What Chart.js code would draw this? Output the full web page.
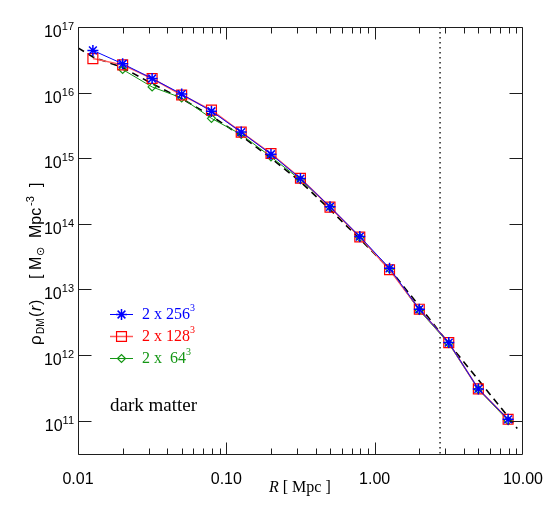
<!DOCTYPE html>
<html>
<head>
<meta charset="utf-8">
<script src="https://cdn.jsdelivr.net/npm/chart.js@4.4.1/dist/chart.umd.min.js"></script>
<style>
  html, body { margin: 0; padding: 0; background: #ffffff; }
  #wrap { width: 550px; height: 511px; position: relative; }
</style>
</head>
<body>
<div id="wrap"><canvas id="c" width="550" height="511"></canvas></div>
<script>
// ---- data ----
const radius   = [0.0126, 0.02, 0.0316, 0.05, 0.0794, 0.126, 0.2, 0.316, 0.5, 0.794, 1.26, 2.0, 3.16, 5.0, 7.94];
const rho256   = [4.4e16, 2.75e16, 1.64e16, 9.5e15, 5.2e15, 2.5e15, 1.15e15, 4.9e14, 1.82e14, 6.4e13, 2.1e13, 5.0e12, 1.55e12, 3.05e11, 1.05e11];
const rho128   = [3.3e16, 2.65e16, 1.64e16, 9.2e15, 5.4e15, 2.5e15, 1.18e15, 4.95e14, 1.8e14, 6.3e13, 2.0e13, 5.0e12, 1.55e12, 3.05e11, 1.05e11];
const rho64    = [null, 2.25e16, 1.22e16, 8.3e15, 4.05e15, 2.3e15, 1.05e15, 4.7e14, 1.8e14, 6.2e13, 2.05e13, 4.8e12, 1.5e12, 3.0e11, 1.0e11];
const fitRadius = [0.01, 0.0126, 0.02, 0.0316, 0.05, 0.0794, 0.126, 0.2, 0.316, 0.5, 0.794, 1.26, 2.0, 3.16, 5.0, 7.94, 9.15];
const fitRho    = [4.8e16, 3.5e16, 2.4e16, 1.37e16, 8.1e15, 4.4e15, 2.2e15, 1.0e15, 4.4e14, 1.65e14, 5.9e13, 2.05e13, 5.6e12, 1.5e12, 4.2e11, 1.15e11, 7.6e10];
const virialRadius = 2.76;
const xTickValues = [0.01, 0.1, 1, 10];
const xTickLabels = ['0.01', '0.10', '1.00', '10.00'];
const yTickExponents = [11, 12, 13, 14, 15, 16, 17];
const seriesNames = ['2 x 256', '2 x 128', '2 x  64'];
const seriesSup = ['3', '3', '3'];
const annotationText = 'dark matter';

const X_MIN = 0.01, X_MAX = 10, Y_MIN = 3.0e10, Y_MAX = 1e17;

const BLUE = 'rgb(0,0,255)';
const RED = 'rgb(255,0,0)';
const RED_LINE = 'rgb(255,90,90)';
const GREEN = 'rgb(20,150,20)';

function pts(xs, ys) {
  const out = [];
  xs.forEach((x, i) => { if (ys[i] !== null) out.push({ x: x, y: ys[i] }); });
  return out;
}

const SANS = '"Liberation Sans", Arial, Helvetica, sans-serif';
const SERIF = '"Liberation Serif", "Times New Roman", serif';

const styles = [
  { color: BLUE, line: BLUE, lw: 1, pointStyle: 'star', radius: 5.5, bw: 1.5 },
  { color: RED, line: RED_LINE, lw: 1.5, pointStyle: 'rect', radius: 7, bw: 1.2 },
  { color: GREEN, line: GREEN, lw: 1, pointStyle: 'rectRot', radius: 4, bw: 1.2 }
];

const framePlugin = {
  id: 'framePlugin',
  afterDatasetsDraw(chart) {
    const ctx = chart.ctx;
    const a = chart.chartArea;
    const xs = chart.scales.x, ys = chart.scales.y;
    const L = Math.round(a.left) + 0.5, R = Math.round(a.right) - 0.5;
    const T = Math.round(a.top) + 0.5, B = Math.round(a.bottom) - 0.5;
    ctx.save();
    ctx.strokeStyle = '#1e1e1e';
    ctx.lineWidth = 1;
    ctx.beginPath();
    ctx.moveTo(L, T); ctx.lineTo(R, T); ctx.lineTo(R, B); ctx.lineTo(L, B); ctx.closePath();
    ctx.stroke();
    ctx.beginPath();
    yTickExponents.forEach(e => {
      const py = Math.round(ys.getPixelForValue(Math.pow(10, e))) + 0.5;
      ctx.moveTo(L, py); ctx.lineTo(L + 13, py);
      ctx.moveTo(R, py); ctx.lineTo(R - 13, py);
    });
    for (let d = -2; d <= 0; d++) {
      for (let m = 1; m <= 9; m++) {
        const v = m * Math.pow(10, d);
        const px = Math.round(xs.getPixelForValue(v)) + 0.5;
        const len = (m === 1) ? 12 : 6;
        ctx.moveTo(px, B); ctx.lineTo(px, B - len);
        ctx.moveTo(px, T); ctx.lineTo(px, T + len);
      }
    }
    ctx.stroke();
    ctx.restore();
  },
  afterDraw(chart) {
    const ctx = chart.ctx;
    const ys = chart.scales.y;
    const a = chart.chartArea;
    ctx.save();
    ctx.fillStyle = '#000';
    // y tick labels 10^n
    yTickExponents.forEach(e => {
      const py = ys.getPixelForValue(Math.pow(10, e));
      ctx.font = '11px ' + SANS;
      const sup = String(e);
      const ws = ctx.measureText(sup).width;
      const right = a.left - 4;
      ctx.textAlign = 'left';
      ctx.textBaseline = 'alphabetic';
      ctx.fillText(sup, right - ws, py + 3);
      ctx.font = '16px ' + SANS;
      ctx.textAlign = 'right';
      ctx.fillText('10', right - ws, py + 10);
    });
    // x axis title: R [ Mpc ]
    ctx.textAlign = 'left';
    ctx.textBaseline = 'alphabetic';
    ctx.font = 'italic 16px ' + SERIF;
    let xx = 269;
    ctx.fillText('R', xx, 492);
    xx += ctx.measureText('R').width;
    ctx.font = '16px ' + SERIF;
    ctx.fillText(' [ Mpc ]', xx, 492);

    // y axis title (rotated), pieces placed along the label
    ctx.save();
    ctx.translate(41, 345);
    ctx.rotate(-Math.PI / 2);
    const piece = (txt, font, at, dy) => { ctx.font = font; ctx.fillText(txt, at, dy); };
    piece('\u03C1', '17px ' + SANS, 0, 0);
    piece('DM', '10px ' + SANS, 11, 3);
    piece('(', '16px ' + SANS, 28, 0);
    piece('r', 'italic 16px ' + SANS, 34, 0);
    piece(')', '16px ' + SANS, 40, 0);
    piece('[', '16px ' + SANS, 66, 0);
    piece('M', '16px ' + SANS, 75, 0);
    piece('\u2299', '11px ' + SANS, 89, 3);
    piece('Mpc', '16px ' + SANS, 107, 0);
    piece('-3', '11px ' + SANS, 139, -7);
    piece(']', '16px ' + SANS, 158, 0);
    ctx.restore();

    // legend
    const rows = [314.5, 336.5, 358.5];
    rows.forEach((ry, i) => {
      const s = styles[i];
      ctx.strokeStyle = s.line;
      ctx.lineWidth = s.lw;
      ctx.beginPath();
      ctx.moveTo(110, ry); ctx.lineTo(133, ry);
      ctx.stroke();
      ctx.strokeStyle = s.color;
      ctx.fillStyle = 'rgba(0,0,0,0)';
      ctx.lineWidth = s.bw;
      Chart.helpers.drawPoint(ctx, { pointStyle: s.pointStyle, radius: s.radius, rotation: 0, borderWidth: s.bw }, 121.5, ry);
      ctx.fillStyle = s.color;
      ctx.font = '16px ' + SERIF;
      ctx.textAlign = 'left';
      ctx.fillText(seriesNames[i], 142, ry + 4);
      const w = ctx.measureText(seriesNames[i]).width;
      ctx.font = '10px ' + SERIF;
      ctx.fillText(seriesSup[i], 142 + w, ry - 4);
    });
    ctx.fillStyle = '#000';
    ctx.font = '19px ' + SERIF;
    ctx.fillText(annotationText, 110, 410.5);
    ctx.restore();
  }
};

const ds = (label, data, s, order) => ({
  label: label,
  data: data,
  borderColor: s.line,
  borderWidth: s.lw,
  pointStyle: s.pointStyle,
  pointRadius: s.radius,
  pointBorderColor: s.color,
  pointBorderWidth: s.bw,
  pointBackgroundColor: 'rgba(0,0,0,0)',
  pointHoverRadius: s.radius,
  tension: 0,
  fill: false,
  order: order
});

new Chart(document.getElementById('c'), {
  type: 'line',
  data: {
    datasets: [
      ds(seriesNames[0] + '\u00B3', pts(radius, rho256), styles[0], 0),
      ds(seriesNames[1] + '\u00B3', pts(radius, rho128), styles[1], 1),
      ds(seriesNames[2] + '\u00B3', pts(radius, rho64), styles[2], 2),
      {
        label: 'fit',
        data: pts(fitRadius, fitRho),
        borderColor: '#000',
        borderWidth: 1.6,
        borderDash: [7, 5],
        pointRadius: 0,
        tension: 0,
        fill: false,
        order: 3
      },
      {
        label: 'r_vir',
        data: [{ x: virialRadius, y: Y_MAX }, { x: virialRadius, y: Y_MIN }],
        borderColor: '#000',
        borderWidth: 1.3,
        borderDash: [1.5, 3.5],
        pointRadius: 0,
        fill: false,
        order: 4
      }
    ]
  },
  options: {
    responsive: false,
    animation: false,
    devicePixelRatio: 1,
    layout: { padding: { left: 0, top: 27, right: 25, bottom: 0 } },
    plugins: { legend: { display: false }, tooltip: { enabled: false } },
    scales: {
      x: {
        type: 'logarithmic',
        min: X_MIN, max: X_MAX,
        grid: { display: false },
        border: { display: false },
        afterBuildTicks: s => { s.ticks = xTickValues.map(v => ({ value: v })); },
        afterFit: s => { s.height = 56; },
        ticks: {
          autoSkip: false, maxRotation: 0, minRotation: 0,
          padding: 7,
          color: '#000',
          font: { family: SANS, size: 16 },
          callback: (v) => { const i = xTickValues.indexOf(v); return i >= 0 ? xTickLabels[i] : ''; }
        }
      },
      y: {
        type: 'logarithmic',
        min: Y_MIN, max: Y_MAX,
        grid: { display: false },
        border: { display: false },
        ticks: { display: false },
        afterFit: s => { s.width = 78; }
      }
    }
  },
  plugins: [framePlugin]
});
</script>
</body>
</html>
